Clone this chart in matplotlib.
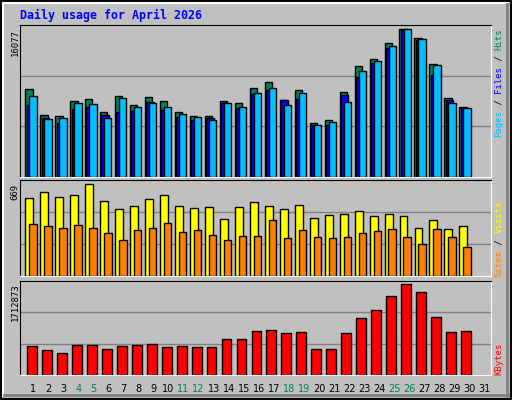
import matplotlib
matplotlib.use("Agg")
import matplotlib.pyplot as plt
from matplotlib.patches import Rectangle
import numpy as np

days = list(range(1, 32))
hits_y = [268,346,349,304,298,337,289,316,292,304,337,349,349,304,310,265,247,301,271,370,361,277,199,178,130,88,115,193,295,322]
files_y = [316,355,370,328,322,346,337,334,307,331,352,361,355,310,325,283,271,301,298,376,376,286,232,190,145,90,121,226,301,325]
pages_y = [289,358,355,310,313,355,295,322,310,322,343,352,361,310,322,280,265,316,280,376,367,307,214,184,139,88,118,196,310,325]
hits = [round((530 - v) * 16077 / 442) for v in hits_y]
files = [round((530 - v) * 16077 / 442) for v in files_y]
pages = [round((530 - v) * 16077 / 442) for v in pages_y]
visits_y = [70,52,67,61,28,79,103,94,73,61,94,100,97,133,97,82,94,103,91,130,121,118,109,124,118,124,160,136,163,154]
sites_y = [148,154,160,151,160,175,196,166,160,145,172,166,181,196,184,184,136,190,166,187,190,187,175,169,163,187,208,163,187,217]
visits = [round((304 - v) * 669 / 276) for v in visits_y]
sites = [round((304 - v) * 669 / 276) for v in sites_y]
kb_y = [514,526,535,511,511,523,514,511,508,517,514,517,517,493,493,469,466,475,472,523,523,475,430,406,364,328,352,427,472,469]
kbytes = [round((601 - v) * 1712873 / 273) for v in kb_y]
weekends = [4, 5, 11, 12, 18, 19, 25, 26]

C_HITS, C_FILES, C_PAGES = "#00805c", "#0000ff", "#00c0ff"
C_VIS, C_SITES, C_KB = "#ffff00", "#ff8000", "#ff0000"
BG = "#c0c0c0"

W, H = 512, 400
fig = plt.figure(figsize=(5.12, 4.0), dpi=100)
fig.patch.set_facecolor(BG)

def fx(px): return px / W
def fy(py): return 1 - py / H

# bevel border
bax = fig.add_axes([0, 0, 1, 1]); bax.set_xlim(0, W); bax.set_ylim(H, 0); bax.axis("off")
bax.plot([1, W-1, W-1, 1, 1], [1, 1, H-1, H-1, 1], color="black", lw=1.5)
bax.plot([3, W-4], [3, 3], color="white", lw=1.5); bax.plot([3, 3], [3, H-4], color="white", lw=1.5)
bax.plot([4, W-4], [H-5, H-5], color="#808080", lw=2); bax.plot([W-5, W-5], [4, H-4], color="#808080", lw=2)

x0, x1 = 20, 490.7
def mkax(top, bot):
    ax = fig.add_axes([fx(x0), fy(bot), fx(x1 - x0), (bot - top) / H])
    ax.set_facecolor(BG)
    ax.set_xlim(0.133, 31.58)
    ax.set_xticks([]); ax.set_yticks([])
    for s in ["left", "top"]:
        ax.spines[s].set_color("black")
    for s in ["right", "bottom"]:
        ax.spines[s].set_color("white")
    return ax

d = np.array(days[:30])
ax1 = mkax(25, 177)
ymax1 = 16077 * 152 / 148
ax1.set_ylim(0, ymax1)
for g in (ymax1 / 3, 2 * ymax1 / 3):
    ax1.axhline(g, color="#808080", lw=1, zorder=0)
kw = dict(edgecolor="black", linewidth=1)
ax1.bar(d - 0.27, hits, width=0.49, color=C_HITS, **kw)
ax1.bar(d - 0.18, files, width=0.49, color=C_FILES, **kw)
ax1.bar(d, pages, width=0.49, color=C_PAGES, **kw)

ax2 = mkax(180, 276)
ymax2 = 669 * 96 / 92
ax2.set_ylim(0, ymax2)
for g in (ymax2 / 3, 2 * ymax2 / 3):
    ax2.axhline(g, color="#808080", lw=1, zorder=0)
ax2.bar(d - 0.245, visits, width=0.53, color=C_VIS, **kw)
ax2.bar(d, sites, width=0.5, color=C_SITES, **kw)

ax3 = mkax(281, 375)
ymax3 = 1712873 * 94 / 91
ax3.set_ylim(0, ymax3)
for g in (ymax3 / 3, 2 * ymax3 / 3):
    ax3.axhline(g, color="#808080", lw=1, zorder=0)
ax3.bar(d - 0.07, kbytes, width=0.66, color=C_KB, **kw)

mono = "DejaVu Sans Mono"
fig.text(fx(20), fy(15), "Daily usage for April 2026", color="#0000ff", fontsize=8.4,
         fontweight="bold", family=mono, va="center", ha="left")

for txt, ytop in (("16077", 29), ("669", 184), ("1712873", 283)):
    fig.text(fx(15), fy(ytop), txt, rotation=90, fontsize=6.5, family=mono, ha="center", va="top")

def vlabel(parts, ybot):
    cw = 5.45
    y = ybot
    for t, c in parts:
        fig.text(fx(499), fy(y), t, rotation=90, color=c, fontsize=6.5, family=mono,
                 ha="center", va="bottom")
        y -= cw * len(t)

vlabel([("Pages", C_PAGES), (" / ", "black"), ("Files", C_FILES), (" / ", "black"), ("Hits", C_HITS)], 137)
vlabel([("Sites", C_SITES), (" / ", "black"), ("Visits", C_VIS)], 277)
vlabel([("KBytes", C_KB)], 375)

for i in days:
    px = 33 + 15.05 * (i - 1)
    fig.text(fx(px), fy(389), str(i), fontsize=7, ha="center", va="center",
             color=C_HITS if i in weekends else "black")

fig.savefig("out.png", dpi=100, facecolor=BG)
